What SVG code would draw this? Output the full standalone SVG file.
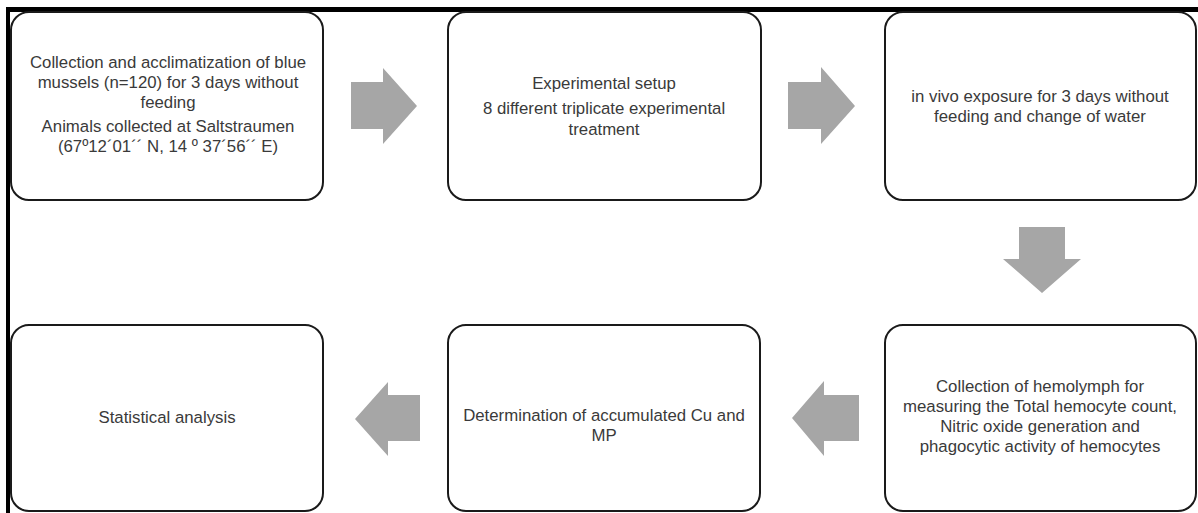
<svg xmlns="http://www.w3.org/2000/svg" width="1198" height="513" viewBox="0 0 1198 513">
<style>
.box{fill:#fff;stroke:#1a1a1a;stroke-width:2}
.arr{fill:#a6a6a6}
.t{font-family:"Liberation Sans",Arial,sans-serif;font-size:16.8px;fill:#3a3a3a;text-anchor:middle}
</style>
<rect width="1198" height="513" fill="#fff"/>
<g id="frame">
<line x1="6" y1="9.5" x2="1198" y2="9.5" stroke="#000" stroke-width="5"/>
<line x1="8" y1="7" x2="8" y2="513" stroke="#000" stroke-width="4"/>
</g>
<g id="connectors">
<polygon class="arr" points="351,82 383,82 383,68 417,106 383,144 383,129 351,129"/>
<polygon class="arr" points="788,82 821,82 821,67 855,106 821,144 821,129 788,129"/>
<polygon class="arr" points="1019,227 1065,227 1065,259 1081,259 1042,293 1003,259 1019,259"/>
<polygon class="arr" points="859,395 824,395 824,381 792,418 824,456 824,441 859,441"/>
<polygon class="arr" points="420,395 388,395 388,382 355,419 388,456 388,441 420,441"/>
</g>
<g id="n1">
<rect class="box" x="11" y="12" width="312" height="188" rx="18"/>
<text class="t" x="168" y="68">Collection and acclimatization of blue</text>
<text class="t" x="168" y="88">mussels (n=120) for 3 days without</text>
<text class="t" x="168" y="108">feeding</text>
<text class="t" x="168" y="132">Animals collected at Saltstraumen</text>
<text class="t" x="168" y="152">(67º12´01´´ N, 14 º 37´56´´ E)</text>
</g>
<g id="n2">
<rect class="box" x="448" y="12" width="313" height="188" rx="18"/>
<text class="t" x="604" y="89">Experimental setup</text>
<text class="t" x="604" y="114">8 different triplicate experimental</text>
<text class="t" x="604" y="135">treatment</text>
</g>
<g id="n3">
<rect class="box" x="885" y="12" width="311" height="188" rx="18"/>
<text class="t" x="1040" y="102">in vivo exposure for 3 days without</text>
<text class="t" x="1040" y="122">feeding and change of water</text>
</g>
<g id="n4">
<rect class="box" x="885" y="325" width="311" height="186" rx="18"/>
<text class="t" x="1040" y="392">Collection of hemolymph for</text>
<text class="t" x="1040" y="412">measuring the Total hemocyte count,</text>
<text class="t" x="1040" y="432">Nitric oxide generation and</text>
<text class="t" x="1040" y="452">phagocytic activity of hemocytes</text>
</g>
<g id="n5">
<rect class="box" x="448" y="325" width="312" height="186" rx="18"/>
<text class="t" x="604" y="421">Determination of accumulated Cu and</text>
<text class="t" x="604" y="441">MP</text>
</g>
<g id="n6">
<rect class="box" x="11" y="325" width="312" height="186" rx="18"/>
<text class="t" x="167" y="423">Statistical analysis</text>
</g>
</svg>
